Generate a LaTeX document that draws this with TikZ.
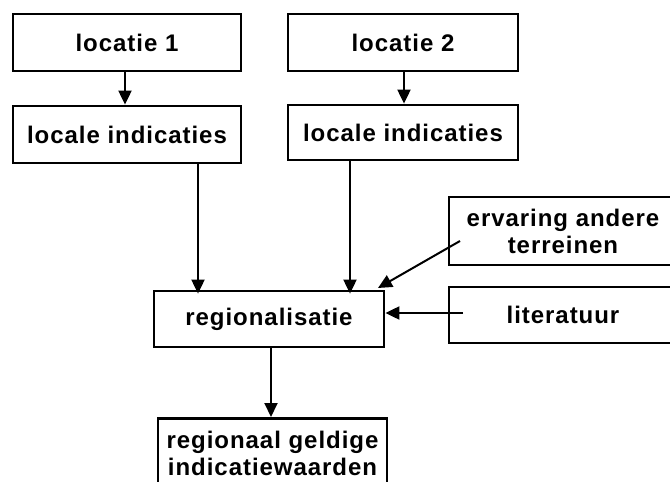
\documentclass[tikz,border=0pt]{standalone}
\usepackage{fontspec}
\setmainfont[LetterSpace=4]{Liberation Sans}
\usetikzlibrary{arrows.meta,calc}
\begin{document}
\begin{tikzpicture}[x=1pt,y=-1pt,
  box/.style={draw,line width=2.8pt,rectangle,inner sep=0pt,
    font=\fontsize{24}{27}\selectfont\bfseries,align=center},
  arr/.style={line width=2pt,-{Triangle[length=14pt,width=13pt]}}]
\useasboundingbox (0,0) rectangle (670,482);
\clip (0,0) rectangle (670,482);
\fill[white] (0,0) rectangle (670,482);
\node[box,minimum width=228pt,minimum height=57pt] (loc1) at (127,42.5) {locatie 1};
\node[box,minimum width=228pt,minimum height=57pt] (li1) at (127,134.5) {locale indicaties};
\node[box,minimum width=230pt,minimum height=57pt] (loc2) at (403,42.5) {locatie 2};
\node[box,minimum width=230pt,minimum height=55pt] (li2) at (403,132.5) {locale indicaties};
\node[box,minimum width=230pt,minimum height=56pt] (reg) at (269,319) {regionalisatie};
\node[box,minimum width=228pt,minimum height=68pt] (erv) at (563,231) {ervaring andere\\terreinen};
\node[box,minimum width=228pt,minimum height=56pt] (lit) at (563,315) {literatuur};
\node[box,minimum width=229pt,minimum height=70pt,anchor=north] (out) at (272.5,417) {regionaal geldige\\indicatiewaarden};
\coordinate (x1) at (125,0);
\coordinate (x2) at (404,0);
\coordinate (x3) at (198,0);
\coordinate (x4) at (350,0);
\coordinate (x5) at (271,0);
\coordinate (es) at (460,241);
\coordinate (et) at (378,288);
\coordinate (ls) at (463,313);
\draw[arr] (loc1.south -| x1) -- (li1.north -| x1);
\draw[arr] (loc2.south -| x2) -- (li2.north -| x2);
\draw[arr] (li1.south -| x3) -- ([yshift=-4pt]reg.north -| x3);
\draw[arr] (li2.south -| x4) -- ([yshift=-4pt]reg.north -| x4);
\draw[arr] (es) -- (et);
\draw[arr] (ls) -- (reg.east |- ls);
\draw[arr] (reg.south -| x5) -- (out.north -| x5);
\end{tikzpicture}
\end{document}
